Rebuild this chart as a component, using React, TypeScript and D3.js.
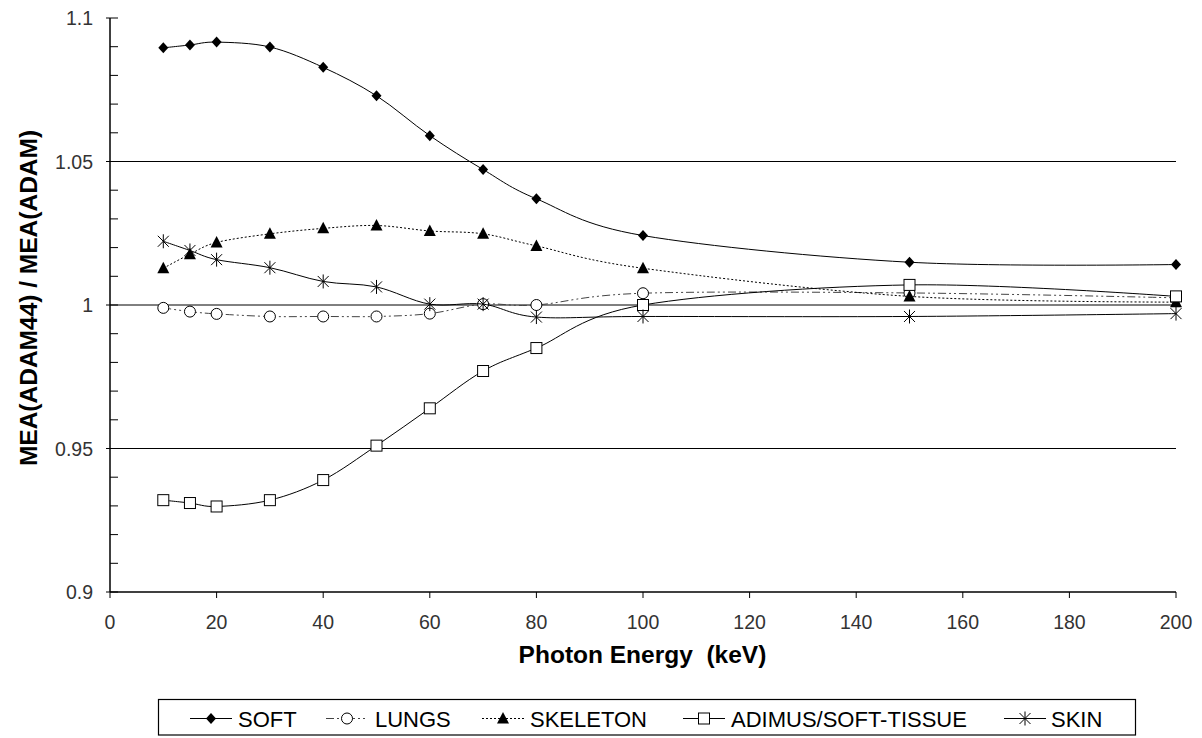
import React from "react";
import * as d3 from "d3";

const energies = [10, 15, 20, 30, 40, 50, 60, 70, 80, 100, 150, 200];
const soft = [1.0896, 1.0906, 1.0916, 1.0899, 1.0828, 1.0729, 1.059, 1.0472, 1.037, 1.0242, 1.0149, 1.0141];
const lungs = [0.999, 0.9977, 0.9969, 0.996, 0.996, 0.996, 0.997, 1.0003, 1.0, 1.0041, 1.0042, 1.0025];
const skeleton = [1.0128, 1.0177, 1.0218, 1.0248, 1.0267, 1.0277, 1.0258, 1.0248, 1.0206, 1.0128, 1.003, 1.001];
const adimus = [0.932, 0.931, 0.9298, 0.932, 0.939, 0.951, 0.964, 0.977, 0.985, 1.0, 1.007, 1.003];
const skin = [1.0222, 1.019, 1.0158, 1.013, 1.0082, 1.0063, 1.0003, 1.0003, 0.9958, 0.996, 0.996, 0.997];
const xTicks = [0, 20, 40, 60, 80, 100, 120, 140, 160, 180, 200];
const yTicks = [0.9, 0.95, 1.0, 1.05, 1.1];
const yGrid = [0.95, 1.0, 1.05];
const seriesNames = ["SOFT", "LUNGS", "SKELETON", "ADIMUS/SOFT-TISSUE", "SKIN"];

type MarkerKind = "diamond" | "circle" | "triangle" | "square" | "asterisk";

const seriesDefs: { name: string; values: number[]; dash: string | undefined; marker: MarkerKind; stroke: string }[] = [
  { name: seriesNames[0], values: soft, dash: undefined, marker: "diamond", stroke: "#000" },
  { name: seriesNames[1], values: lungs, dash: "8,3,2,3,2,3", marker: "circle", stroke: "#444" },
  { name: seriesNames[2], values: skeleton, dash: "2,2", marker: "triangle", stroke: "#000" },
  { name: seriesNames[3], values: adimus, dash: undefined, marker: "square", stroke: "#000" },
  { name: seriesNames[4], values: skin, dash: undefined, marker: "asterisk", stroke: "#000" },
];

function Marker({ kind, x, y }: { kind: MarkerKind; x: number; y: number }) {
  switch (kind) {
    case "diamond":
      return <path d={`M${x},${y - 5.5}L${x + 5},${y}L${x},${y + 5.5}L${x - 5},${y}Z`} fill="#000" />;
    case "circle":
      return <circle cx={x} cy={y} r={5.5} fill="#fff" stroke="#000" strokeWidth={1} />;
    case "triangle":
      return <path d={`M${x},${y - 6.5}L${x + 6},${y + 5}L${x - 6},${y + 5}Z`} fill="#000" />;
    case "square":
      return <rect x={x - 5.5} y={y - 5.5} width={11} height={11} fill="#fff" stroke="#000" strokeWidth={1} />;
    case "asterisk":
      return (
        <path
          d={`M${x - 5.5},${y - 5.5}L${x + 5.5},${y + 5.5}M${x - 5.5},${y + 5.5}L${x + 5.5},${y - 5.5}M${x},${y - 7}L${x},${y + 7}`}
          stroke="#000"
          strokeWidth={1}
          fill="none"
        />
      );
  }
}

export default function App() {
  const W = 1202;
  const H = 738;
  const x = d3.scaleLinear().domain([0, 200]).range([110, 1176]);
  const y = d3.scaleLinear().domain([0.9, 1.1]).range([592, 18]);
  const minorY = d3.range(0, 21).map((i) => 0.9 + i * 0.01);
  const line = d3
    .line<[number, number]>()
    .x((d) => x(d[0]))
    .y((d) => y(d[1]))
    .curve(d3.curveCardinal.tension(0));

  const font = "'Liberation Sans', Arial, sans-serif";

  const legendItems = [
    { lx: 190, tx: 238 },
    { lx: 326, tx: 375 },
    { lx: 482, tx: 530 },
    { lx: 683, tx: 731 },
    { lx: 1004, tx: 1051 },
  ];

  return (
    <svg width={W} height={H} style={{ position: "absolute", left: 0, top: 0, background: "#fff" }}>
      <rect x={0} y={0} width={W} height={H} fill="#fff" />
      {yGrid.map((v) => (
        <line key={v} x1={x(0)} x2={x(200)} y1={y(v)} y2={y(v)} stroke="#000" strokeWidth={1} />
      ))}
      {/* y axis */}
      <line x1={x(0)} x2={x(0)} y1={y(1.1)} y2={y(0.9)} stroke="#000" strokeWidth={1.5} />
      {minorY.map((v, i) => (
        <line key={i} x1={x(0) - (i % 5 === 0 ? 4 : 0)} x2={x(0) + 8} y1={y(v)} y2={y(v)} stroke="#000" strokeWidth={1} />
      ))}
      {yTicks.map((v) => (
        <text key={v} x={93} y={y(v)} dy="0.36em" textAnchor="end" fontFamily={font} fontSize={19.5} fill="#333">
          {String(v)}
        </text>
      ))}
      {/* x axis */}
      <line x1={x(0)} x2={x(200)} y1={y(0.9)} y2={y(0.9)} stroke="#000" strokeWidth={1.5} />
      {xTicks.map((v) => (
        <g key={v}>
          <line x1={x(v)} x2={x(v)} y1={y(0.9)} y2={y(0.9) + 6} stroke="#000" strokeWidth={1} />
          <text x={x(v)} y={629} textAnchor="middle" fontFamily={font} fontSize={19.5} fill="#333">
            {v}
          </text>
        </g>
      ))}
      <text x={642.5} y={663} textAnchor="middle" fontFamily={font} fontSize={24.5} fontWeight="bold" fill="#000" xmlSpace="preserve">
        Photon Energy  (keV)
      </text>
      <text
        transform={`translate(37,298) rotate(-90)`}
        textAnchor="middle"
        fontFamily={font}
        fontSize={24.5}
        fontWeight="bold"
        fill="#000"
      >
        MEA(ADAM44) / MEA(ADAM)
      </text>
      {/* series */}
      {seriesDefs.map((s) => {
        const pts = energies.map((e, i) => [e, s.values[i]] as [number, number]);
        return (
          <g key={s.name}>
            <path d={line(pts) || ""} fill="none" stroke={s.stroke} strokeWidth={1} strokeDasharray={s.dash} />
            {pts.map((p, i) => (
              <Marker key={i} kind={s.marker} x={x(p[0])} y={y(p[1])} />
            ))}
          </g>
        );
      })}
      {/* legend */}
      <rect x={158.5} y={699.5} width={977} height={35.5} fill="#fff" stroke="#000" strokeWidth={1.2} />
      {seriesDefs.map((s, i) => {
        const it = legendItems[i];
        const cy = 718.5;
        return (
          <g key={s.name}>
            <line x1={it.lx} x2={it.lx + 42} y1={cy} y2={cy} stroke={s.stroke} strokeWidth={1} strokeDasharray={s.dash} />
            <Marker kind={s.marker} x={it.lx + 21} y={cy} />
            <text x={it.tx} y={726.5} fontFamily={font} fontSize={22} fill="#000">
              {s.name}
            </text>
          </g>
        );
      })}
    </svg>
  );
}
